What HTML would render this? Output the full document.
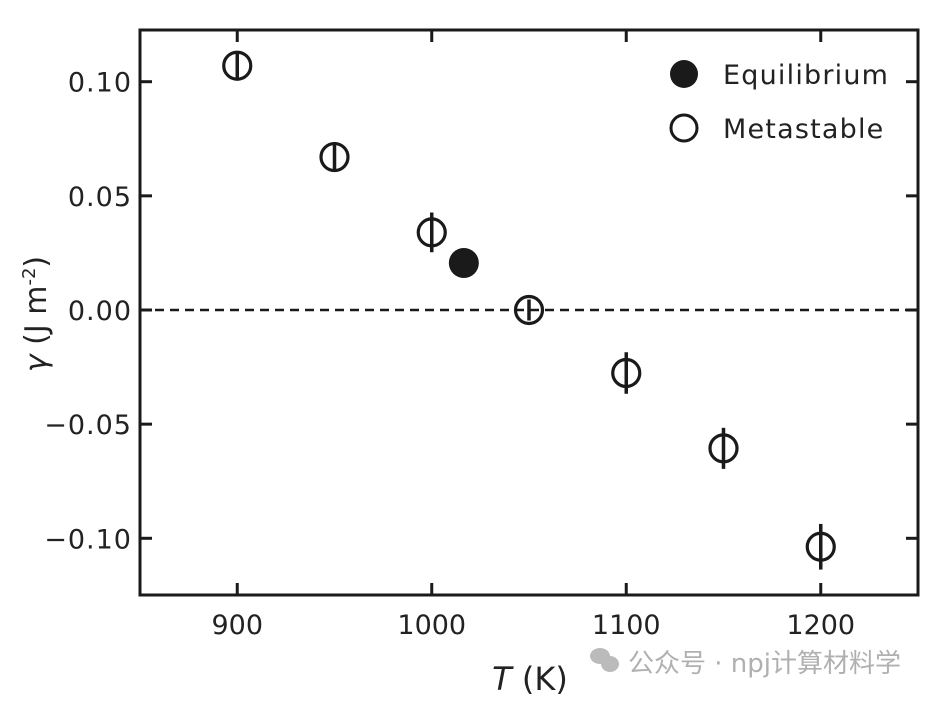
<!DOCTYPE html>
<html><head><meta charset="utf-8"><style>
body{margin:0;background:#fff;}
svg{display:block;font-family:"DejaVu Sans","Liberation Sans","Noto Sans CJK SC",sans-serif;}
</style></head><body>
<svg id="chart" width="938" height="702">
<rect x="140" y="30" width="778" height="565" fill="none" stroke="#1a1a1a" stroke-width="3"/>
<g id="axes"></g>
<g id="marks"></g>
<g>
<circle cx="684" cy="74" r="14" fill="#1a1a1a"/>
<text x="723" y="84" font-size="27" letter-spacing="1.2" fill="#222">Equilibrium</text>
<circle cx="684" cy="128" r="13" fill="none" stroke="#1a1a1a" stroke-width="3"/>
<text x="723" y="138" font-size="27" letter-spacing="1.2" fill="#222">Metastable</text>
</g>
<text transform="translate(46,314) rotate(-90)" text-anchor="middle" font-size="30" fill="#222"><tspan font-style="italic">γ</tspan> (J m<tspan dy="-11" font-size="18">-2</tspan><tspan dy="11">)</tspan></text>
<text x="530" y="690" text-anchor="middle" font-size="32" fill="#222"><tspan font-style="italic">T</tspan> (K)</text>
<g>
<ellipse cx="600" cy="656" rx="10" ry="8" fill="#bbb"/>
<ellipse cx="610" cy="664" rx="9" ry="8" fill="#bbb"/>
<text x="628" y="672" font-size="26" fill="#b0b0b0">公众号 · npj计算材料学</text>
</g>
</svg>
<script>
const xTicks=[900,1000,1100,1200];
const yTicks=[0.10,0.05,0.00,-0.05,-0.10];
const yTickLabels=["0.10","0.05","0.00","\u22120.05","\u22120.10"];
const metaT=[900,950,1000,1050,1100,1150,1200];
const metaGamma=[0.107,0.067,0.034,0.000,-0.0276,-0.0606,-0.1037];
const metaErr=[0.0054,0.0065,0.0087,0.0046,0.0091,0.009,0.010];
const eqT=[1016.5];
const eqGamma=[0.0206];
const NS="http://www.w3.org/2000/svg";
const X0=140,X1=918,Y0=30,Y1=595;
function xs(v){return X0+(v-850)/400*(X1-X0);}
function ys(v){return 310-v*2283;}
function mk(tag,attrs,parent){const e=document.createElementNS(NS,tag);for(const k in attrs)e.setAttribute(k,attrs[k]);parent.appendChild(e);return e;}
const ax=document.getElementById('axes'),mg=document.getElementById('marks');
xTicks.forEach(t=>{const x=xs(t);
 let a=mk('line',{x1:x,x2:x,y1:Y1,y2:Y1-12,stroke:'#1a1a1a','stroke-width':3},ax);
 
 
 let b=mk('line',{x1:x,x2:x,y1:Y0,y2:Y0+12,stroke:'#1a1a1a','stroke-width':3},ax);
 
 
 let l=mk('text',{x:x,y:634,'text-anchor':'middle','font-size':27,fill:'#222'},ax);l.textContent=t;
 
 
});
yTicks.forEach((t,i)=>{const y=ys(t);
 let a=mk('line',{x1:X0,x2:X0+12,y1:y,y2:y,stroke:'#1a1a1a','stroke-width':3},ax);
 
 
 let b=mk('line',{x1:X1,x2:X1-12,y1:y,y2:y,stroke:'#1a1a1a','stroke-width':3},ax);
 
 
 let l=mk('text',{x:132,y:y+10,'text-anchor':'end','font-size':27,'letter-spacing':1,fill:'#222'},ax);l.textContent=yTickLabels[i];
 
 
});
let z=mk('line',{x1:X0,x2:X1,y1:ys(0),y2:ys(0),stroke:'#1a1a1a','stroke-width':2.5,'stroke-dasharray':'9,6'},ax);


metaT.forEach((t,i)=>{const x=xs(t),y=ys(metaGamma[i]);
 let c=mk('circle',{cx:x,cy:y,r:13.5,fill:'none',stroke:'#1a1a1a','stroke-width':3.2},mg);
 
 
 let e=mk('line',{x1:x,x2:x,y1:ys(metaGamma[i]+metaErr[i]),y2:ys(metaGamma[i]-metaErr[i]),stroke:'#1a1a1a','stroke-width':3.5},mg);
 
 
});
eqT.forEach((t,i)=>{
 let c=mk('circle',{cx:xs(t),cy:ys(eqGamma[i]),r:15,fill:'#1a1a1a'},mg);
 
 
});
</script>
</body></html>
